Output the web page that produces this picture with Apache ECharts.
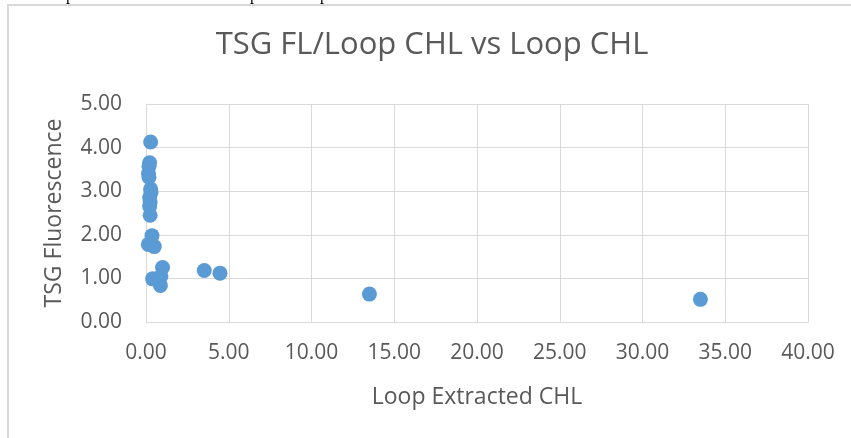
<!DOCTYPE html>
<html><head><meta charset="utf-8">
<script src="https://cdn.jsdelivr.net/npm/echarts@6/dist/echarts.min.js"></script>
<style>html,body{margin:0;padding:0;background:#fff}#c{width:851px;height:438px}</style>
</head><body><div id="c"></div>
<script>
const titleText = 'TSG FL/Loop CHL vs Loop CHL';
const xName = 'Loop Extracted CHL';
const yName = 'TSG Fluorescence';
const loopChl = [0.28, 0.22, 0.18, 0.15, 0.18, 0.28, 0.3, 0.22, 0.25, 0.22, 0.25, 0.36, 0.14, 0.5, 1.0, 3.52, 4.47, 0.4, 0.9, 0.87, 13.5, 33.5];
const tsgFl   = [4.13, 3.65, 3.57, 3.4, 3.32, 3.05, 2.97, 2.85, 2.75, 2.65, 2.45, 1.98, 1.78, 1.73, 1.25, 1.18, 1.12, 0.99, 1.05, 0.84, 0.64, 0.52];
const xMin = 0, xMax = 40, xStep = 5;
const yMin = 0, yMax = 5, yStep = 1;

const txt = '#595959';
const font = '"Open Sans", sans-serif';
const serif = '16px "Liberation Serif", serif';
const chart = echarts.init(document.getElementById('c'));
chart.setOption({
  animation: false,
  backgroundColor: '#fff',
  grid: { left: 146, right: 43, top: 104, bottom: 116, containLabel: false },
  xAxis: {
    type: 'value', min: xMin, max: xMax, interval: xStep,
    name: xName, nameLocation: 'middle', nameGap: 64,
    nameTextStyle: { color: txt, fontSize: 23, fontFamily: font },
    axisLine: { show: true, lineStyle: { color: '#D9D9D9', width: 1 } },
    axisTick: { show: false },
    splitLine: { show: true, lineStyle: { color: '#D9D9D9', width: 1 } },
    axisLabel: { color: txt, fontSize: 21, fontFamily: font, margin: 21, formatter: v => v.toFixed(2) }
  },
  yAxis: {
    type: 'value', min: yMin, max: yMax, interval: yStep,
    name: yName, nameLocation: 'middle', nameGap: 80, nameRotate: 90,
    nameTextStyle: { color: txt, fontSize: 23, fontFamily: font },
    axisLine: { show: true, lineStyle: { color: '#D9D9D9', width: 1 } },
    axisTick: { show: false },
    splitLine: { show: true, lineStyle: { color: '#D9D9D9', width: 1 } },
    axisLabel: { color: txt, fontSize: 21, fontFamily: font, margin: 24, formatter: v => v.toFixed(2) }
  },
  series: [{
    type: 'scatter',
    data: loopChl.map((x, i) => [x, tsgFl[i]]),
    symbolSize: 15,
    itemStyle: { color: '#5B9BD5', opacity: 1 }
  }],
  graphic: [
    { type: 'rect', shape: { x: 8, y: 5, width: 1000, height: 1000 }, style: { fill: 'none', stroke: '#D9D9D9', lineWidth: 2 }, silent: true },
    { type: 'text', x: 432, y: 45, style: { text: titleText, fill: txt, font: '31px ' + font, align: 'center', verticalAlign: 'middle' } },
    { type: 'text', x: 66, y: -12, style: { text: 'p', fill: '#000', font: serif, align: 'left', verticalAlign: 'top' } },
    { type: 'text', x: 250, y: -12, style: { text: 'p', fill: '#000', font: serif, align: 'left', verticalAlign: 'top' } },
    { type: 'text', x: 320, y: -12, style: { text: 'p', fill: '#000', font: serif, align: 'left', verticalAlign: 'top' } }
  ]
});
</script>
</body></html>
